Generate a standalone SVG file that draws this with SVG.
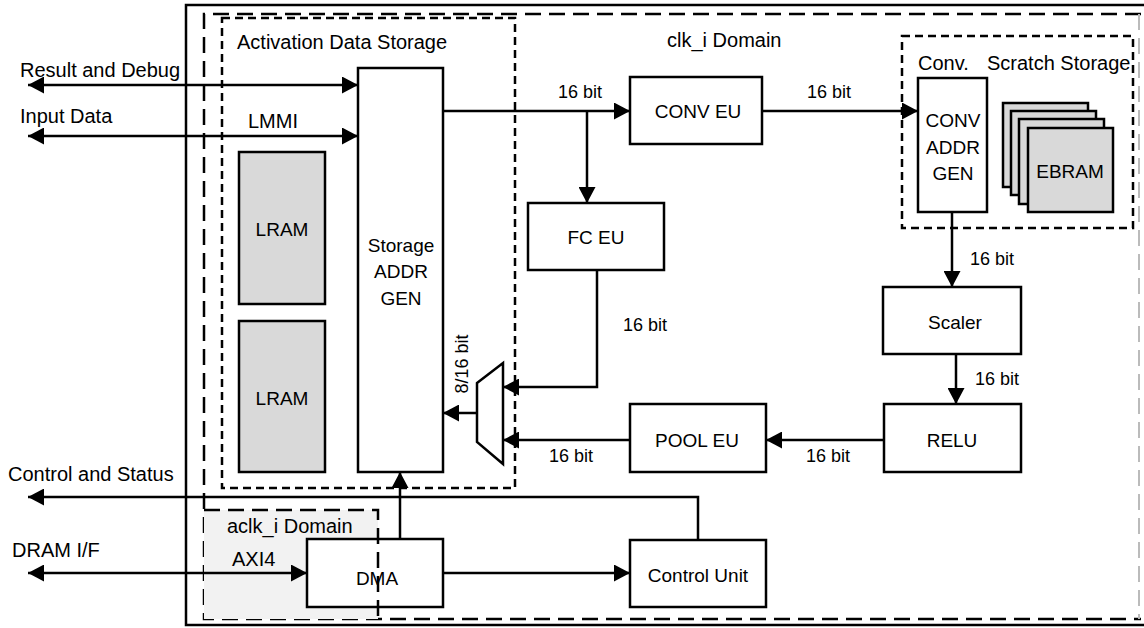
<svg xmlns="http://www.w3.org/2000/svg" width="1144" height="628" viewBox="0 0 1144 628">
<style>
text{font-family:"Liberation Sans",Arial,sans-serif;fill:#000}
.lbl{font-size:20px}
.bx{font-size:19px;text-anchor:middle}
.bit{font-size:18px}
.box{fill:#fff;stroke:#000;stroke-width:2.5}
.ram{fill:#d9d9d9;stroke:#000;stroke-width:2.5}
.ln{fill:none;stroke:#000;stroke-width:2.5}
.dl{fill:none;stroke:#000;stroke-width:2.5;stroke-dasharray:16 8}
.ds{fill:none;stroke:#000;stroke-width:2.5;stroke-dasharray:8 5}
</style>
<defs>
<marker id="ah" viewBox="0 0 16 17" refX="16" refY="8.5" markerWidth="16" markerHeight="17" markerUnits="userSpaceOnUse" orient="auto-start-reverse">
<path d="M0,0 L16,8.5 L0,17 z" fill="#000"/>
</marker>
</defs>
<rect width="1144" height="628" fill="#fff"/>

<g id="outer-frame">
<rect x="186" y="5" width="970" height="620" class="ln"/>
</g>
<g id="clk-domain">
<path d="M1141,14 H204 V619 H1141" class="dl"/>
<path d="M1139,14 V619" fill="none" stroke="#bbb" stroke-width="2" stroke-dasharray="16 8"/>
<text class="lbl" x="667" y="47">clk_i Domain</text>
</g>
<g id="aclk-domain">
<rect x="204" y="510" width="174" height="109" fill="#f2f2f2"/>
<text class="lbl" x="227" y="533">aclk_i Domain</text>
</g>
<g id="activation-storage">
<rect x="222" y="18" width="293" height="470" class="ds"/>
<text class="lbl" x="237" y="49">Activation Data Storage</text>
</g>
<g id="scratch-storage">
<rect x="902" y="36" width="231" height="192" class="ds"/>
<text class="lbl" x="918" y="70">Conv.</text>
<text class="lbl" x="987" y="70">Scratch Storage</text>
</g>

<g id="connectors">
<path d="M358,85 H28" class="ln" marker-start="url(#ah)" marker-end="url(#ah)"/>
<path d="M358,136 H28" class="ln" marker-start="url(#ah)" marker-end="url(#ah)"/>
<path d="M443,111 H630" class="ln" marker-end="url(#ah)"/>
<path d="M587,111 V203" class="ln" marker-end="url(#ah)"/>
<path d="M762,111 H918" class="ln" marker-end="url(#ah)"/>
<path d="M952,212 V287" class="ln" marker-end="url(#ah)"/>
<path d="M956,354 V404" class="ln" marker-end="url(#ah)"/>
<path d="M884,440 H766" class="ln" marker-end="url(#ah)"/>
<path d="M630,440 H503" class="ln" marker-end="url(#ah)"/>
<path d="M597,270 V387 H503" class="ln" marker-end="url(#ah)"/>
<path d="M477,413 H443" class="ln" marker-end="url(#ah)"/>
<path d="M400,539 V472" class="ln" marker-end="url(#ah)"/>
<path d="M443,573 H630" class="ln" marker-end="url(#ah)"/>
<path d="M698,540 V497 H28" class="ln" marker-end="url(#ah)"/>
<path d="M307,573 H28" class="ln" marker-start="url(#ah)" marker-end="url(#ah)"/>
<text class="lbl" x="20" y="77">Result and Debug</text>
<text class="lbl" x="20" y="123">Input Data</text>
<text class="lbl" x="248" y="128">LMMI</text>
<text class="lbl" x="8" y="481">Control and Status</text>
<text class="lbl" x="12" y="557">DRAM I/F</text>
<text class="lbl" x="232" y="566">AXI4</text>
<text class="bit" x="558" y="98">16 bit</text>
<text class="bit" x="807" y="98">16 bit</text>
<text class="bit" x="623" y="331">16 bit</text>
<text class="bit" x="970" y="265">16 bit</text>
<text class="bit" x="975" y="385">16 bit</text>
<text class="bit" x="806" y="462">16 bit</text>
<text class="bit" x="549" y="462">16 bit</text>
<text class="bit" text-anchor="middle" transform="translate(468,364) rotate(-90)">8/16 bit</text>
</g>

<g id="lram-1">
<rect x="239" y="152" width="86" height="152" class="ram"/>
<text class="bx" x="282" y="236">LRAM</text>
</g>
<g id="lram-2">
<rect x="239" y="321" width="86" height="151" class="ram"/>
<text class="bx" x="282" y="405">LRAM</text>
</g>
<g id="storage-addr-gen">
<rect x="358" y="68" width="85" height="404" class="box"/>
<text class="bx" x="401" y="252">Storage</text>
<text class="bx" x="401" y="278">ADDR</text>
<text class="bx" x="401" y="305">GEN</text>
</g>
<g id="mux">
<polygon points="477,383 503,363 503,464 477,442" class="box"/>
</g>
<g id="conv-eu">
<rect x="630" y="77" width="132" height="67" class="box"/>
<text class="bx" x="698" y="118">CONV EU</text>
</g>
<g id="fc-eu">
<rect x="528" y="203" width="136" height="67" class="box"/>
<text class="bx" x="596" y="244">FC EU</text>
</g>
<g id="conv-addr-gen">
<rect x="918" y="78" width="69" height="134" class="box"/>
<text class="bx" x="953" y="127">CONV</text>
<text class="bx" x="953" y="154">ADDR</text>
<text class="bx" x="953" y="180">GEN</text>
</g>
<g id="ebram">
<rect x="1003" y="103" width="85" height="84" class="ram"/>
<rect x="1011" y="111" width="85" height="84" class="ram"/>
<rect x="1019" y="119" width="85" height="85" class="ram"/>
<rect x="1028" y="128" width="85" height="84" class="ram"/>
<text class="bx" x="1070" y="178">EBRAM</text>
</g>
<g id="scaler">
<rect x="883" y="287" width="138" height="67" class="box"/>
<text class="bx" x="955" y="329">Scaler</text>
</g>
<g id="relu">
<rect x="884" y="404" width="137" height="68" class="box"/>
<text class="bx" x="952" y="447">RELU</text>
</g>
<g id="pool-eu">
<rect x="630" y="404" width="136" height="68" class="box"/>
<text class="bx" x="697" y="447">POOL EU</text>
</g>
<g id="control-unit">
<rect x="630" y="540" width="136" height="67" class="box"/>
<text class="bx" x="698" y="582">Control Unit</text>
</g>
<g id="dma">
<rect x="307" y="539" width="136" height="68" class="box"/>
<text class="bx" x="377" y="585">DMA</text>
</g>
<g id="aclk-domain-border">
<path d="M204,510 H378 V619" class="dl"/>
</g>
</svg>
